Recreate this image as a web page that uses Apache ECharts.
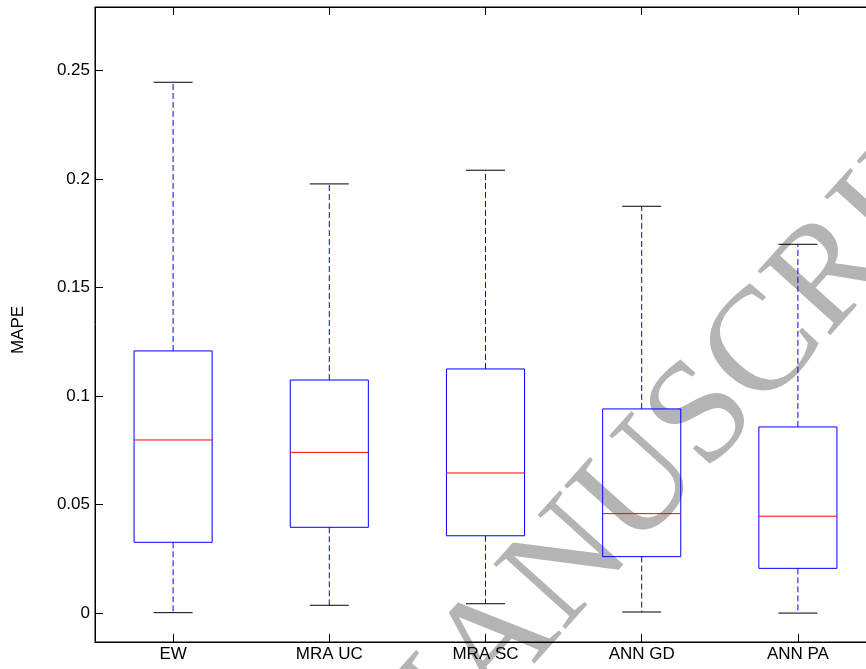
<!DOCTYPE html>
<html>
<head>
<meta charset="utf-8">
<script src="https://cdn.jsdelivr.net/npm/echarts@6/dist/echarts.min.js"></script>
<style>
html,body{margin:0;padding:0;background:#fff;}
#chart{width:866px;height:669px;}
</style>
</head>
<body>
<div id="chart"></div>
<script>
const categories = ['EW', 'MRA UC', 'MRA SC', 'ANN GD', 'ANN PA'];
const lowerWhisker = [0.0003, 0.0037, 0.0044, 0.0006, 0.0001];
const q1 = [0.0327, 0.0396, 0.0357, 0.0261, 0.0207];
const median = [0.0798, 0.0741, 0.0646, 0.0459, 0.0447];
const q3 = [0.1208, 0.1074, 0.1125, 0.0941, 0.0858];
const upperWhisker = [0.2445, 0.1977, 0.2040, 0.1874, 0.1699];
const yTicks = [0, 0.05, 0.1, 0.15, 0.2, 0.25];
const xTicks = [1, 2, 3, 4, 5];
const yLabel = 'MAPE';
const watermark = 'ACCEPTED MANUSCRIPT';

const FONT = "'Liberation Sans', Arial, Helvetica, sans-serif";
const chart = echarts.init(document.getElementById('chart'), null, {renderer: 'canvas'});

const BOX_HALF = 0.25, CAP_HALF = 0.125;
const GAP = ['-', '-'];

function segments(fn) {
  const out = [];
  categories.forEach((c, i) => { fn(i + 1, i).forEach(p => out.push(p)); out.push(GAP); });
  return out;
}

const upperWhiskerLine = segments((x, i) => [[x, q3[i]], [x, upperWhisker[i]]]);
const lowerWhiskerLine = segments((x, i) => [[x, q1[i]], [x, lowerWhisker[i]]]);
const capLines = segments((x, i) => [[x - CAP_HALF, upperWhisker[i]], [x + CAP_HALF, upperWhisker[i]], GAP,
  [x - CAP_HALF, lowerWhisker[i]], [x + CAP_HALF, lowerWhisker[i]]]);
const boxLines = segments((x, i) => [[x - BOX_HALF, q1[i]], [x - BOX_HALF, q3[i]], [x + BOX_HALF, q3[i]],
  [x + BOX_HALF, q1[i]], [x - BOX_HALF, q1[i]]]);
const medianLines = segments((x, i) => [[x - BOX_HALF, median[i]], [x + BOX_HALF, median[i]]]);

function lineSeries(name, data, color, type, z) {
  return {
    type: 'line', name: name, data: data, z: z, silent: true,
    showSymbol: false, symbol: 'none', connectNulls: false, smooth: false,
    lineStyle: {color: color, width: 1, type: type},
    itemStyle: {color: color},
    emphasis: {disabled: true},
    clip: false
  };
}

const angle = 48 * Math.PI / 180;

const option = {
  backgroundColor: '#ffffff',
  animation: false,
  grid: {left: 95, top: 7, width: 781, height: 635, outerBoundsMode: 'none', containLabel: false,
    show: true, borderColor: '#000', borderWidth: 1, backgroundColor: 'transparent'},
  xAxis: [
    {
      type: 'value', min: 0.5, max: 5.5, position: 'bottom',
      axisLine: {show: true, onZero: false, lineStyle: {color: '#000', width: 1}},
      axisTick: {show: true, inside: true, length: 8, customValues: xTicks, lineStyle: {color: '#000'}},
      axisLabel: {color: '#000', fontSize: 17, fontFamily: FONT, margin: 4, customValues: xTicks,
        formatter: v => categories[Math.round(v) - 1] || ''},
      splitLine: {show: false}
    },
    {
      type: 'value', min: 0.5, max: 5.5, position: 'top',
      axisLine: {show: true, onZero: false, lineStyle: {color: '#000', width: 1}},
      axisTick: {show: true, inside: true, length: 8, customValues: xTicks, lineStyle: {color: '#000'}},
      axisLabel: {show: false},
      splitLine: {show: false}
    }
  ],
  yAxis: {
    type: 'value', min: -0.01321, max: 0.27915,
    axisLine: {show: true, onZero: false, lineStyle: {color: '#000', width: 1}},
    axisTick: {show: true, inside: true, length: 8, customValues: yTicks, lineStyle: {color: '#000'}},
    axisLabel: {color: '#000', fontSize: 17, fontFamily: FONT, margin: 5, customValues: yTicks,
      formatter: v => String(Math.round(v * 100) / 100)},
    splitLine: {show: false}
  },
  graphic: [
    {
      type: 'text', z: -10, x: 425, y: 727, rotation: angle, silent: true,
      style: {text: watermark, fontSize: 148, fontFamily: "'Liberation Serif', 'Times New Roman', serif",
        fill: '#b4b4b4', align: 'center', verticalAlign: 'middle'}
    },
    {
      type: 'text', x: 18, y: 330, rotation: Math.PI / 2,
      style: {text: yLabel, fontSize: 17, fontFamily: FONT, fill: '#000', align: 'center', verticalAlign: 'middle'}
    }
  ],
  series: [
    lineSeries('upperWhisker', upperWhiskerLine, '#0000ff', [6, 3], 5),
    lineSeries('lowerWhisker', lowerWhiskerLine, '#0000ff', [6, 3], 5),
    lineSeries('caps', capLines, '#000000', 'solid', 6),
    lineSeries('box', boxLines, '#0000ff', 'solid', 7),
    lineSeries('median', medianLines, '#ff0000', 'solid', 8)
  ]
};
chart.setOption(option);
</script>
</body>
</html>
